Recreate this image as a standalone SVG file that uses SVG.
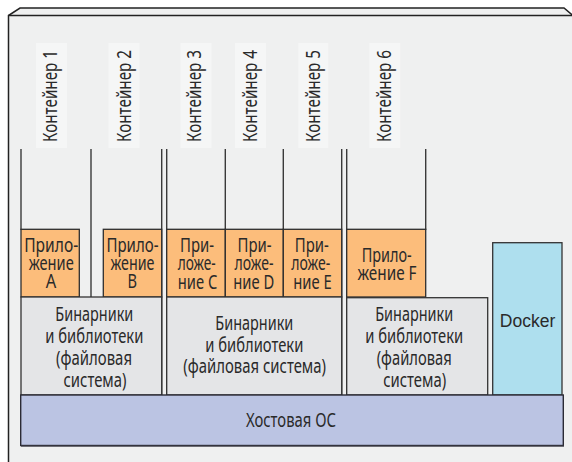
<svg xmlns="http://www.w3.org/2000/svg" width="572" height="462" viewBox="0 0 572 462">
<style>
.t{font-family:"Noto Sans","DejaVu Sans",sans-serif;font-size:19px;fill:#2a2a2a;text-anchor:middle}
.a{font-size:19.5px}
.lbl{font-family:"Noto Sans","DejaVu Sans",sans-serif;font-size:19.5px;fill:#2a2a2a;text-anchor:start}
.wall{stroke:#3a3a3a;stroke-width:1.4;fill:none}
.app{fill:#fcbd7b;stroke:#2e2e2e;stroke-width:1.3}
.bin{fill:#e4e5e7;stroke:#333;stroke-width:1.3}
.panel{fill:#f5f6f6}
</style>
<rect width="572" height="462" fill="#ffffff"/>
<g id="frame">
<polygon points="8.5,15.5 20,8 564,8 573,15.5 573,463 8.5,463" fill="#eff0f0"/>
<path d="M8.5,463 V15.5 L20,8 H564 L573,15.5" fill="none" stroke="#222" stroke-width="1.5"/>
<line x1="8.5" y1="15.5" x2="573" y2="15.5" stroke="#222" stroke-width="1.5"/>
</g>
<g id="container-walls">
<line class="wall" x1="21" y1="149" x2="21" y2="230"/>
<line class="wall" x1="91" y1="149" x2="91" y2="297"/>
<line class="wall" x1="161.7" y1="149" x2="161.7" y2="395"/>
<line class="wall" x1="166.7" y1="149" x2="166.7" y2="395"/>
<line class="wall" x1="225.3" y1="149" x2="225.3" y2="230"/>
<line class="wall" x1="283.3" y1="149" x2="283.3" y2="230"/>
<line class="wall" x1="341.7" y1="149" x2="341.7" y2="395"/>
<line class="wall" x1="346.7" y1="149" x2="346.7" y2="395"/>
<line class="wall" x1="425.7" y1="149" x2="425.7" y2="230"/>
</g>
<g id="connectors"></g>
<g id="container-1"><rect class="panel" x="36" y="43" width="31" height="105"/><text class="lbl" transform="translate(56.8,142) rotate(-90)" textLength="92" lengthAdjust="spacingAndGlyphs">Контейнер 1</text></g>
<g id="container-2"><rect class="panel" x="108.5" y="43" width="31" height="105"/><text class="lbl" transform="translate(130.8,142) rotate(-90)" textLength="92" lengthAdjust="spacingAndGlyphs">Контейнер 2</text></g>
<g id="container-3"><rect class="panel" x="180.5" y="43" width="31" height="105"/><text class="lbl" transform="translate(200.8,142) rotate(-90)" textLength="92" lengthAdjust="spacingAndGlyphs">Контейнер 3</text></g>
<g id="container-4"><rect class="panel" x="235" y="43" width="31" height="105"/><text class="lbl" transform="translate(256.8,142) rotate(-90)" textLength="92" lengthAdjust="spacingAndGlyphs">Контейнер 4</text></g>
<g id="container-5"><rect class="panel" x="298.3" y="43" width="30" height="105"/><text class="lbl" transform="translate(320.2,142) rotate(-90)" textLength="92" lengthAdjust="spacingAndGlyphs">Контейнер 5</text></g>
<g id="container-6"><rect class="panel" x="369.3" y="43" width="31" height="105"/><text class="lbl" transform="translate(390.8,142) rotate(-90)" textLength="92" lengthAdjust="spacingAndGlyphs">Контейнер 6</text></g>
<g id="app-a"><rect class="app" x="21" y="229.3" width="58.3" height="67.7"/>
<text class="t a" x="51.2" y="251.7" textLength="54" lengthAdjust="spacingAndGlyphs">Прило-</text>
<text class="t a" x="51.2" y="269.7" textLength="45" lengthAdjust="spacingAndGlyphs">жение</text>
<text class="t a" x="51" y="288.3" textLength="10.5" lengthAdjust="spacingAndGlyphs">A</text></g>
<g id="app-b"><rect class="app" x="103.3" y="229.3" width="58.4" height="67.7"/>
<text class="t a" x="132.5" y="251.7" textLength="52" lengthAdjust="spacingAndGlyphs">Прило-</text>
<text class="t a" x="132.5" y="269.7" textLength="44" lengthAdjust="spacingAndGlyphs">жение</text>
<text class="t a" x="132.2" y="288.3" textLength="9.5" lengthAdjust="spacingAndGlyphs">B</text></g>
<g id="app-c"><rect class="app" x="166.7" y="229.3" width="58.6" height="67.7"/>
<text class="t a" x="197" y="251.7" textLength="34" lengthAdjust="spacingAndGlyphs">При-</text>
<text class="t a" x="196.7" y="270.2" textLength="38" lengthAdjust="spacingAndGlyphs">ложе-</text>
<text class="t a" x="197.5" y="289.3" textLength="39.5" lengthAdjust="spacingAndGlyphs">ние C</text></g>
<g id="app-d"><rect class="app" x="225.3" y="229.3" width="58" height="67.7"/>
<text class="t a" x="254.5" y="251.7" textLength="34" lengthAdjust="spacingAndGlyphs">При-</text>
<text class="t a" x="254" y="270.2" textLength="39" lengthAdjust="spacingAndGlyphs">ложе-</text>
<text class="t a" x="253.8" y="289.3" textLength="41" lengthAdjust="spacingAndGlyphs">ние D</text></g>
<g id="app-e"><rect class="app" x="283.3" y="229.3" width="58.4" height="67.7"/>
<text class="t a" x="311.8" y="251.7" textLength="34" lengthAdjust="spacingAndGlyphs">При-</text>
<text class="t a" x="310.8" y="270.2" textLength="39" lengthAdjust="spacingAndGlyphs">ложе-</text>
<text class="t a" x="312.5" y="289.3" textLength="38.5" lengthAdjust="spacingAndGlyphs">ние E</text></g>
<g id="app-f"><rect class="app" x="346.7" y="229.3" width="79" height="67.7"/>
<text class="t a" x="386.7" y="261.7" textLength="50" lengthAdjust="spacingAndGlyphs">Прило-</text>
<text class="t a" x="387" y="279.5" textLength="59" lengthAdjust="spacingAndGlyphs">жение F</text></g>
<g id="binaries-1"><rect class="bin" x="21" y="297" width="140.7" height="98"/>
<text class="t" x="94.3" y="320.7" textLength="78" lengthAdjust="spacingAndGlyphs">Бинарники</text>
<text class="t" x="94.3" y="342.7" textLength="98" lengthAdjust="spacingAndGlyphs">и библиотеки</text>
<text class="t" x="94" y="364.7" textLength="76" lengthAdjust="spacingAndGlyphs">(файловая</text>
<text class="t" x="95" y="386.5" textLength="63" lengthAdjust="spacingAndGlyphs">система)</text></g>
<g id="binaries-2"><rect class="bin" x="166.7" y="297" width="175" height="98"/>
<text class="t" x="254.3" y="330" textLength="78" lengthAdjust="spacingAndGlyphs">Бинарники</text>
<text class="t" x="254.3" y="351.5" textLength="98" lengthAdjust="spacingAndGlyphs">и библиотеки</text>
<text class="t" x="254.7" y="373" textLength="142.7" lengthAdjust="spacingAndGlyphs">(файловая система)</text></g>
<g id="binaries-3"><rect class="bin" x="346.7" y="297.7" width="141" height="97.3"/>
<text class="t" x="414.2" y="320.7" textLength="78" lengthAdjust="spacingAndGlyphs">Бинарники</text>
<text class="t" x="414.2" y="342.7" textLength="98" lengthAdjust="spacingAndGlyphs">и библиотеки</text>
<text class="t" x="414.2" y="364.7" textLength="75" lengthAdjust="spacingAndGlyphs">(файловая</text>
<text class="t" x="414.7" y="386.5" textLength="63" lengthAdjust="spacingAndGlyphs">система)</text></g>
<g id="docker"><rect x="492.7" y="242.7" width="69.3" height="152.3" fill="#aedfee" stroke="#333" stroke-width="1.3"/>
<text x="527.5" y="326.5" font-family="'Liberation Sans',Arial,sans-serif" font-size="17.5" fill="#2a2a2a" text-anchor="middle">Docker</text></g>
<g id="host-os"><rect x="20.7" y="395" width="542.6" height="50.5" fill="#bbc4e3" stroke="#2b2b35" stroke-width="1.4"/>
<line x1="21" y1="446.3" x2="564" y2="446.3" stroke="#55565e" stroke-width="1"/>
<text class="t" x="291" y="427" textLength="90" lengthAdjust="spacingAndGlyphs">Хостовая ОС</text></g>
</svg>
